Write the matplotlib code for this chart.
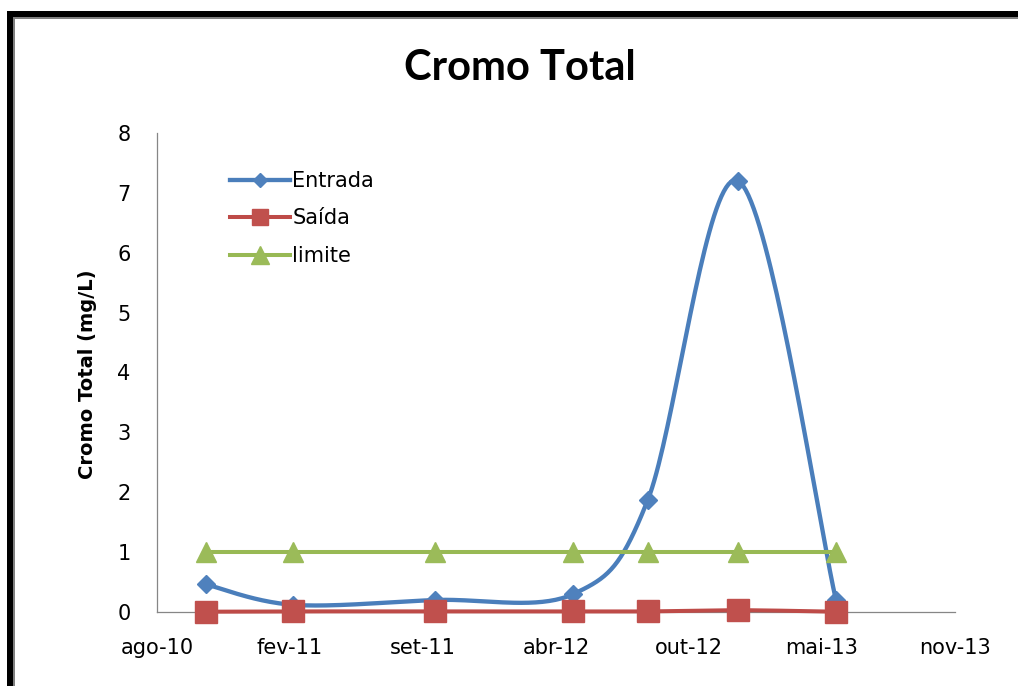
import numpy as np
import matplotlib
matplotlib.use("Agg")
import matplotlib.pyplot as plt
import matplotlib.dates as mdates
from matplotlib.patches import Rectangle
import datetime as dt

# ---- data ----
dates = ["2010-10-23", "2011-03-03", "2011-10-02", "2012-04-27",
         "2012-08-17", "2012-12-31", "2013-05-27"]
entrada = [0.46, 0.12, 0.20, 0.30, 1.87, 7.20, 0.20]
saida = [0.005, 0.01, 0.01, 0.01, 0.01, 0.03, 0.005]
limite = [1, 1, 1, 1, 1, 1, 1]
series_names = ["Entrada", "Saída", "limite"]
tick_start = "2010-08-10"
tick_step_days = 200
n_ticks = 7
month_pt = ["jan", "fev", "mar", "abr", "mai", "jun", "jul", "ago", "set", "out", "nov", "dez"]
title = "Cromo Total"
ylabel = "Cromo Total (mg/L)"

plt.rcParams['font.family'] = ['DejaVu Sans']

W, H = 1018, 686
fig = plt.figure(figsize=(W / 100, H / 100), dpi=100)
ax_l, ax_r, ax_t, ax_b = 157, 955, 133, 612
ax = fig.add_axes([ax_l / W, 1 - ax_b / H, (ax_r - ax_l) / W, (ax_b - ax_t) / H])

t0 = mdates.date2num(dt.datetime.strptime(tick_start, "%Y-%m-%d"))
ticks = [t0 + k * tick_step_days for k in range(n_ticks)]
xnum = np.array([mdates.date2num(dt.datetime.strptime(d, "%Y-%m-%d")) for d in dates])

ax.set_xlim(ticks[0], ticks[-1])
ax.set_ylim(0, 8)

# pixel scale for excel-like smoothing
sx = (ax_r - ax_l) / (ticks[-1] - ticks[0])
sy = (ax_b - ax_t) / 8.0

def smooth(x, y, n=40):
    px = np.asarray(x) * sx
    py = np.asarray(y, dtype=float) * sy
    P = np.column_stack([px, py])
    m = len(P)
    out = []
    for i in range(m - 1):
        p0 = P[i - 1] if i > 0 else P[i]
        p1 = P[i]
        p2 = P[i + 1]
        p3 = P[i + 2] if i + 2 < m else P[i + 1]
        c1 = p1 + (p2 - p0) / 6.0
        c2 = p2 - (p3 - p1) / 6.0
        t = np.linspace(0, 1, n)[:, None]
        seg = ((1 - t) ** 3) * p1 + 3 * ((1 - t) ** 2) * t * c1 + 3 * (1 - t) * t ** 2 * c2 + t ** 3 * p2
        if i > 0:
            seg = seg[1:]
        out.append(seg)
    out = np.vstack(out)
    return out[:, 0] / sx, out[:, 1] / sy

blue_l, blue_m = "#4A7EBB", "#4F81BD"
red_l, red_m = "#BE4B48", "#C0504D"
green_l, green_m = "#98B954", "#9BBB59"

sxs, sys_ = smooth(xnum, entrada)
ax.plot(sxs, sys_, color=blue_l, lw=3.1, solid_capstyle='round', zorder=3, clip_on=False)
ax.plot(xnum, entrada, ls='none', marker='D', ms=9.5, color=blue_m, zorder=3, clip_on=False)
h1, = ax.plot([], [], color=blue_l, lw=3.1, marker='D', ms=7, mfc=blue_m, mec=blue_m)

sxs, sys_ = smooth(xnum, saida)
ax.plot(sxs, sys_, color=red_l, lw=2.9, zorder=4, clip_on=False)
ax.plot(xnum, saida, ls='none', marker='s', ms=15.5, color=red_m, zorder=4, clip_on=False)
h2, = ax.plot([], [], color=red_l, lw=2.9, marker='s', ms=12, mfc=red_m, mec=red_m)

sxs, sys_ = smooth(xnum, limite)
ax.plot(sxs, sys_, color=green_l, lw=2.9, zorder=5, clip_on=False)
ax.plot(xnum, limite, ls='none', marker='^', ms=15, color=green_m, zorder=5, clip_on=False)
h3, = ax.plot([], [], color=green_l, lw=2.9, marker='^', ms=13, mfc=green_m, mec=green_m)

for s in ['top', 'right']:
    ax.spines[s].set_visible(False)
for s in ['left', 'bottom']:
    ax.spines[s].set_color('#868686')
    ax.spines[s].set_linewidth(0.9)
    ax.spines[s].set_zorder(1)

ax.set_xticks(ticks)
labels = []
for t in ticks:
    d = mdates.num2date(t)
    labels.append(f"{month_pt[d.month - 1]}-{d.year % 100:02d}")
ax.set_xticklabels(labels)
ax.set_yticks(range(0, 9))
ax.tick_params(axis='both', length=0, labelsize=15, colors='#000000')
ax.tick_params(axis='x', pad=19)
ax.tick_params(axis='y', pad=19)

ax.set_ylabel(ylabel, fontsize=14, fontweight='bold')
ax.yaxis.set_label_coords((97 - ax_l) / (ax_r - ax_l), 0.497)

fig.text(519.5 / W, 1 - 68 / H, title, fontsize=30, fontweight='bold', family='Lato',
         ha='center', va='center')

leg = ax.legend([h1, h2, h3], series_names, loc='upper left',
                bbox_to_anchor=((230 - ax_l) / (ax_r - ax_l), 1 - (171 - ax_t) / (ax_b - ax_t)),
                frameon=False, fontsize=15, handlelength=2.9, handletextpad=0.1,
                labelspacing=0.84, borderaxespad=0, borderpad=0)

# border (black with grey inner line), top and left
fig.patches.append(Rectangle((7 / W, 0), 6 / W, 1 - 11 / H, transform=fig.transFigure,
                             facecolor='black', edgecolor='none'))
fig.patches.append(Rectangle((13 / W, 0), 2 / W, 1 - 17 / H, transform=fig.transFigure,
                             facecolor='#808080', edgecolor='none'))
fig.patches.append(Rectangle((7 / W, 1 - 17 / H), 1 - 7 / W, 6 / H, transform=fig.transFigure,
                             facecolor='black', edgecolor='none'))
fig.patches.append(Rectangle((13 / W, 1 - 19 / H), 1 - 13 / W, 2 / H, transform=fig.transFigure,
                             facecolor='#808080', edgecolor='none'))

fig.savefig("out.png", dpi=100)
